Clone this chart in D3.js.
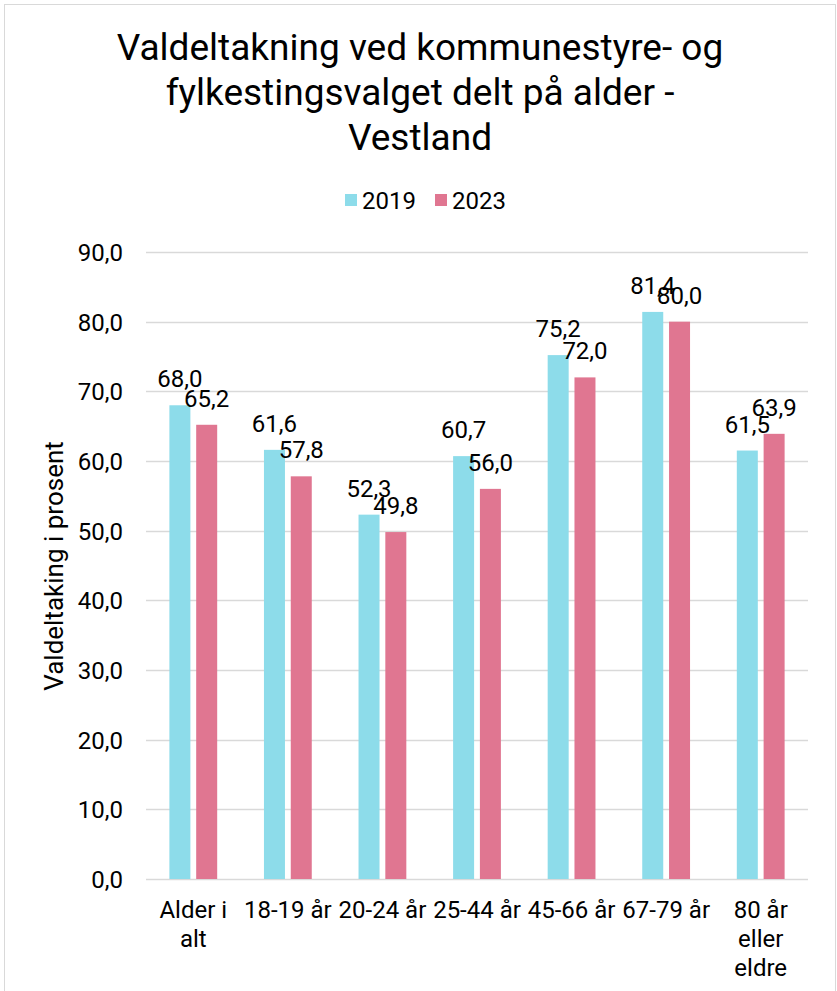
<html><head>
<script src="https://d3js.org/d3.v7.min.js"></script>
<style>
  body { margin: 0; background: #fff; }
  text { font-family: Roboto, "Noto Sans", sans-serif; fill: #000; }
</style>
</head>
<body>
<svg id="chart" width="837" height="991"></svg>
<script>
const categories = [["Alder i", "alt"], ["18-19 år"], ["20-24 år"], ["25-44 år"], ["45-66 år"], ["67-79 år"], ["80 år", "eller", "eldre"]];
const series = ["2019", "2023"];
const values2019 = [68.0, 61.6, 52.3, 60.7, 75.2, 81.4, 61.5];
const values2023 = [65.2, 57.8, 49.8, 56.0, 72.0, 80.0, 63.9];
const yTicks = [0, 10, 20, 30, 40, 50, 60, 70, 80, 90];
const colors = ["#8ddcea", "#e07691"];

const svg = d3.select("#chart");
const fmt = v => v.toFixed(1).replace(".", ",");

// outer border
svg.append("rect").attr("x", 4.5).attr("y", 4.5).attr("width", 831).attr("height", 990)
   .attr("fill", "none").attr("stroke", "#d9d9d9");

const plotL = 146, plotR = 808, plotT = 252, plotB = 879;
const x = d3.scaleBand().domain(d3.range(categories.length)).range([plotL, plotR]);
const y = d3.scaleLinear().domain([0, 90]).range([plotB, plotT]);
const barW = 21, off = 13.4;

// title
const titleLines = ["Valdeltakning ved kommunestyre- og", "fylkestingsvalget delt på alder -", "Vestland"];
svg.append("g").selectAll("text").data(titleLines).join("text")
   .attr("x", 420).attr("y", (d, i) => 60 + i * 45)
   .attr("text-anchor", "middle").attr("font-size", 37).text(d => d);

// legend
const leg = svg.append("g").attr("transform", "translate(345,194)");
series.forEach((s, i) => {
  const g = leg.append("g").attr("transform", `translate(${i * 90},0)`);
  g.append("rect").attr("width", 12).attr("height", 12).attr("fill", colors[i]);
  g.append("text").attr("x", 17).attr("y", 15).attr("font-size", 24).text(s);
});

// gridlines
svg.append("g").selectAll("line").data(yTicks).join("line")
   .attr("x1", plotL).attr("x2", plotR)
   .attr("y1", d => Math.round(y(d)) + 0.5).attr("y2", d => Math.round(y(d)) + 0.5)
   .attr("stroke", "#d9d9d9").attr("stroke-width", 1.5);

// y tick labels
svg.append("g").selectAll("text").data(yTicks).join("text")
   .attr("x", 123).attr("y", d => y(d) + 9)
   .attr("text-anchor", "end").attr("font-size", 24).text(fmt);

// y title
svg.append("text").attr("transform", "translate(63,566) rotate(-90)")
   .attr("text-anchor", "middle").attr("font-size", 26).text("Valdeltaking i prosent");

// bars
const data = [values2019, values2023];
data.forEach((vals, si) => {
  const cx = i => x(i) + x.bandwidth() / 2 + (si === 0 ? -off : off);
  svg.append("g").selectAll("rect").data(vals).join("rect")
     .attr("x", (d, i) => cx(i) - barW / 2).attr("width", barW)
     .attr("y", d => y(d)).attr("height", d => plotB - y(d))
     .attr("fill", colors[si]);
  svg.append("g").selectAll("text").data(vals).join("text")
     .attr("x", (d, i) => cx(i)).attr("y", d => y(d) - 18)
     .attr("text-anchor", "middle").attr("font-size", 24).text(fmt);
});

// x labels
const xl = svg.append("g").selectAll("text").data(categories).join("text")
   .attr("text-anchor", "middle").attr("font-size", 24)
   .attr("transform", (d, i) => `translate(${x(i) + x.bandwidth() / 2},918)`);
xl.selectAll("tspan").data(d => d).join("tspan")
   .attr("x", 0).attr("y", (d, i) => i * 29).text(d => d);
</script>
</body>
</html>
